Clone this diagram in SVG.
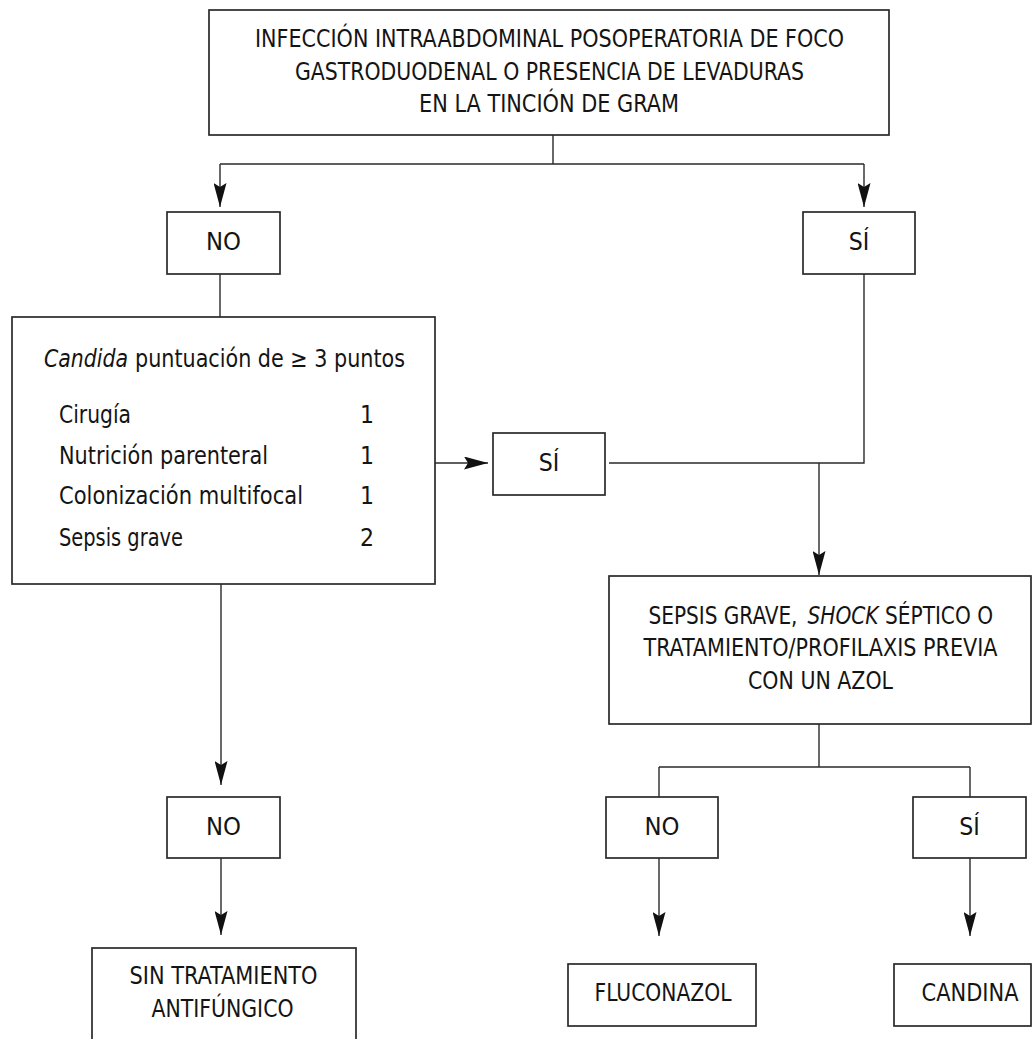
<svg xmlns="http://www.w3.org/2000/svg" width="1032" height="1039" viewBox="0 0 1032 1039">
<style>
  .box { fill: #fff; stroke: #2a2a2a; stroke-width: 1.7; }
  .ln { fill: none; stroke: #2a2a2a; stroke-width: 1.4; }
  text { font-family: "Liberation Sans Narrow", "DejaVu Sans Condensed", "Liberation Sans", sans-serif; font-size: 24.5px; fill: #141414; }
  .c { text-anchor: middle; }
  .i { font-style: italic; }
</style>
<defs>
  <marker id="arr" viewBox="0 0 24 13" refX="24" refY="6.5" markerWidth="24" markerHeight="13" orient="auto" markerUnits="userSpaceOnUse">
    <path d="M0,0 L24,6.5 L0,13 L4,6.5 Z" fill="#111"/>
  </marker>
</defs>
<rect x="0" y="0" width="1032" height="1039" fill="#fff"/>

<g id="connectors">
  <path class="ln" d="M553,135 V164 M220,164 H864"/>
  <path class="ln" d="M220,164 V207" marker-end="url(#arr)"/>
  <path class="ln" d="M864,164 V207" marker-end="url(#arr)"/>
  <path class="ln" d="M220,274 V317"/>
  <path class="ln" d="M864,274 V463 H609"/>
  <path class="ln" d="M435,463 H488" marker-end="url(#arr)"/>
  <path class="ln" d="M819,463 V575" marker-end="url(#arr)"/>
  <path class="ln" d="M819,724 V767 M659,767 H970 M659,767 V797 M970,767 V797"/>
  <path class="ln" d="M659,858 V936" marker-end="url(#arr)"/>
  <path class="ln" d="M970,858 V936" marker-end="url(#arr)"/>
  <path class="ln" d="M221,584 V785" marker-end="url(#arr)"/>
  <path class="ln" d="M221,858 V935" marker-end="url(#arr)"/>
</g>

<g id="n-top">
  <rect class="box" x="209" y="10" width="680" height="125"/>
  <text class="c" x="549.5" y="47" textLength="589" lengthAdjust="spacingAndGlyphs">INFECCIÓN INTRAABDOMINAL POSOPERATORIA DE FOCO</text>
  <text class="c" x="549.5" y="80" textLength="509" lengthAdjust="spacingAndGlyphs">GASTRODUODENAL O PRESENCIA DE LEVADURAS</text>
  <text class="c" x="549" y="112" textLength="260" lengthAdjust="spacingAndGlyphs">EN LA TINCIÓN DE GRAM</text>
</g>

<g id="n-no1">
  <rect class="box" x="167" y="212" width="113" height="62"/>
  <text class="c" x="223.5" y="250" textLength="35" lengthAdjust="spacingAndGlyphs">NO</text>
</g>

<g id="n-si1">
  <rect class="box" x="803" y="212" width="112" height="62"/>
  <text class="c" x="859" y="250">SÍ</text>
</g>

<g id="n-candida">
  <rect class="box" x="12" y="317" width="423" height="267"/>
  <text class="i" x="44" y="367" textLength="84" lengthAdjust="spacingAndGlyphs">Candida</text>
  <text x="135" y="367" textLength="270" lengthAdjust="spacingAndGlyphs">puntuación de ≥ 3 puntos</text>
  <text x="59" y="423" textLength="72" lengthAdjust="spacingAndGlyphs">Cirugía</text>
  <text x="59" y="463.5" textLength="209" lengthAdjust="spacingAndGlyphs">Nutrición parenteral</text>
  <text x="59" y="504" textLength="244" lengthAdjust="spacingAndGlyphs">Colonización multifocal</text>
  <text x="59" y="545.5" textLength="124" lengthAdjust="spacingAndGlyphs">Sepsis grave</text>
  <text class="c" x="367" y="423">1</text>
  <text class="c" x="367" y="463.5">1</text>
  <text class="c" x="367" y="504">1</text>
  <text class="c" x="367" y="545.5">2</text>
</g>

<g id="n-si2">
  <rect class="box" x="493" y="433" width="112" height="62"/>
  <text class="c" x="549" y="471">SÍ</text>
</g>

<g id="n-sepsis">
  <rect class="box" x="609" y="576" width="422" height="148"/>
  <text x="648.5" y="623.5" textLength="149" lengthAdjust="spacingAndGlyphs">SEPSIS GRAVE,</text>
  <text class="i" x="807.5" y="623.5" textLength="71" lengthAdjust="spacingAndGlyphs">SHOCK</text>
  <text x="885" y="623.5" textLength="108" lengthAdjust="spacingAndGlyphs">SÉPTICO O</text>
  <text class="c" x="820.5" y="656" textLength="354" lengthAdjust="spacingAndGlyphs">TRATAMIENTO/PROFILAXIS PREVIA</text>
  <text class="c" x="820.5" y="688.5" textLength="145" lengthAdjust="spacingAndGlyphs">CON UN AZOL</text>
</g>

<g id="n-no3">
  <rect class="box" x="606" y="797" width="112" height="61"/>
  <text class="c" x="662" y="835" textLength="35" lengthAdjust="spacingAndGlyphs">NO</text>
</g>

<g id="n-si3">
  <rect class="box" x="913" y="797" width="113" height="61"/>
  <text class="c" x="969.5" y="835">SÍ</text>
</g>

<g id="n-no2">
  <rect class="box" x="167" y="797" width="113" height="61"/>
  <text class="c" x="223.5" y="835" textLength="35" lengthAdjust="spacingAndGlyphs">NO</text>
</g>

<g id="n-sin">
  <rect class="box" x="92" y="948" width="264" height="100"/>
  <text class="c" x="223.5" y="983.5" textLength="188" lengthAdjust="spacingAndGlyphs">SIN TRATAMIENTO</text>
  <text class="c" x="222.5" y="1017" textLength="142" lengthAdjust="spacingAndGlyphs">ANTIFÚNGICO</text>
</g>

<g id="n-fluconazol">
  <rect class="box" x="568" y="964" width="188" height="62"/>
  <text class="c" x="663" y="1001" textLength="137" lengthAdjust="spacingAndGlyphs">FLUCONAZOL</text>
</g>

<g id="n-candina">
  <rect class="box" x="894" y="964" width="137" height="62"/>
  <text class="c" x="970" y="1001" textLength="97" lengthAdjust="spacingAndGlyphs">CANDINA</text>
</g>
</svg>
